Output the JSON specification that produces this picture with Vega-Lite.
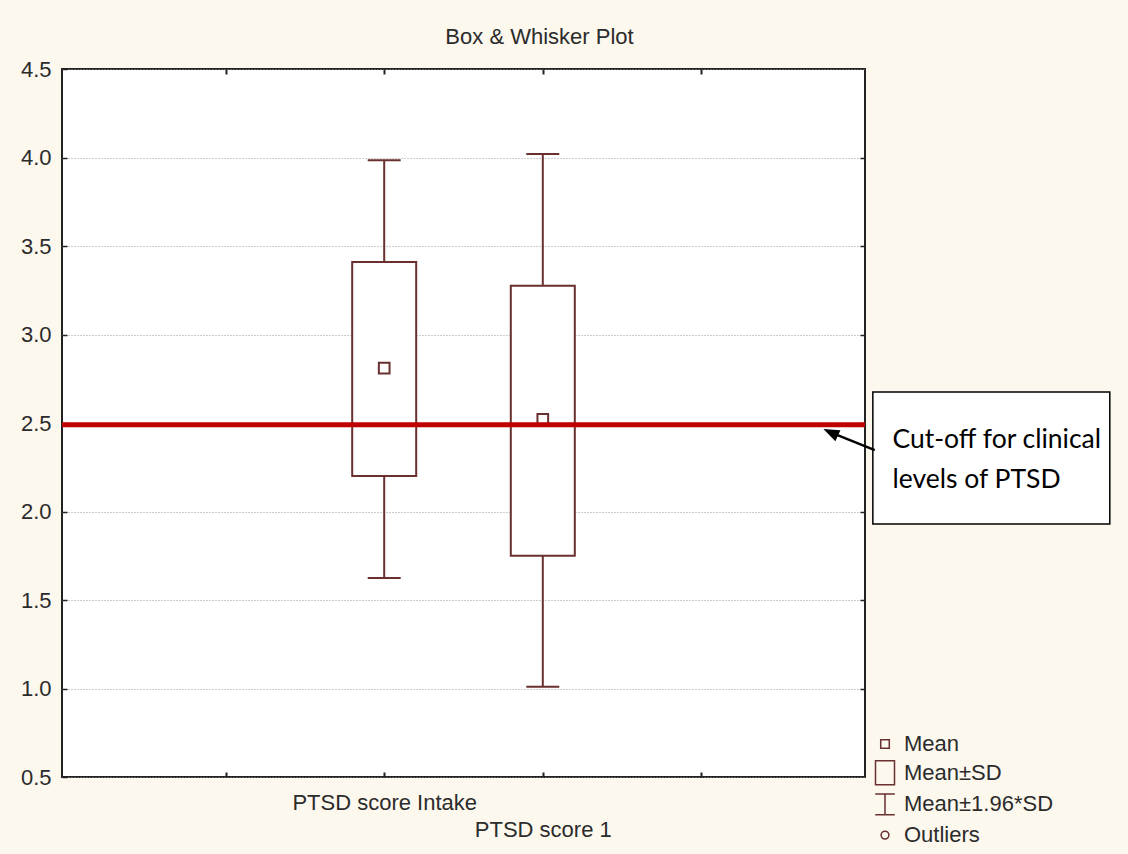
{
  "$schema": "https://vega.github.io/schema/vega-lite/v6.json",
  "width": 803,
  "height": 708,
  "autosize": {"type": "none"},
  "padding": {"left": 62, "top": 69, "right": 263, "bottom": 77},
  "background": "#fcf8ee",
  "title": {
    "text": "Box & Whisker Plot",
    "fontSize": 22,
    "fontWeight": "normal",
    "color": "#2b2b2b",
    "font": "Liberation Sans",
    "offset": 9,
    "dx": 76
  },
  "config": {
    "font": "Liberation Sans",
    "view": {"fill": "white", "stroke": "#222222", "strokeWidth": 2}
  },
  "datasets": {
    "stats": [
      {"variable": "PTSD score Intake", "pos": 2, "stat": "Mean", "mean": 2.81, "sdLo": 2.20, "sdHi": 3.41, "ciLo": 1.625, "ciHi": 3.985},
      {"variable": "PTSD score 1", "pos": 3, "stat": "Mean", "mean": 2.52, "sdLo": 1.75, "sdHi": 3.275, "ciLo": 1.01, "ciHi": 4.02}
    ],
    "cutoff": [{"score": 2.49}],
    "note": [{"x0": 5.081, "x1": 6.575, "y0": 1.929, "y1": 2.675}],
    "noteText": [
      {"line": "Cut-off for clinical", "x": 5.205, "y": 2.404},
      {"line": "levels of PTSD", "x": 5.205, "y": 2.178}
    ],
    "arrow": [{"x": 5.093, "y": 2.347, "tipX": 4.815, "tipY": 2.447}]
  },
  "resolve": {"axis": {"x": "independent", "y": "independent"}},
  "layer": [
    {
      "data": {"name": "stats"},
      "mark": {"type": "bar", "orient": "vertical", "width": 64, "fill": "white", "stroke": "#6a2f2f", "strokeWidth": 2},
      "encoding": {
        "x": {
          "field": "pos", "type": "quantitative",
          "scale": {"domain": [0, 5], "nice": false, "zero": false},
          "axis": {
            "orient": "bottom", "title": null, "values": [1, 2, 3, 4],
            "domain": false, "grid": false,
            "tickSize": -5, "tickWidth": 2, "tickColor": "#222222",
            "labelExpr": "datum.value == 2 ? 'PTSD score Intake' : datum.value == 3 ? ['', 'PTSD score 1'] : ''",
            "labelFontSize": 22, "labelColor": "#2b2b2b", "labelPadding": 20, "labelLimit": 0,
            "labelLineHeight": 27, "labelOverlap": false, "labelFlush": false, "labelBound": false
          }
        },
        "y": {
          "field": "sdLo", "type": "quantitative",
          "scale": {"domain": [0.5, 4.5], "nice": false, "zero": false},
          "axis": {
            "orient": "left", "title": null,
            "values": [0.5, 1, 1.5, 2, 2.5, 3, 3.5, 4, 4.5], "format": ".1f",
            "domain": false, "grid": true, "gridDash": [1, 2], "gridColor": "#999999", "gridWidth": 1,
            "tickSize": -5, "tickWidth": 1.5, "tickColor": "#222222",
            "labelFontSize": 22, "labelColor": "#2b2b2b", "labelPadding": 16
          }
        },
        "y2": {"field": "sdHi"}
      }
    },
    {
      "data": {"name": "stats"},
      "mark": {"type": "rule", "color": "#6a2f2f", "strokeWidth": 2},
      "encoding": {
        "x": {
          "field": "pos", "type": "quantitative",
          "axis": {
            "orient": "top", "title": null, "values": [1, 2, 3, 4],
            "domain": false, "grid": false, "labels": false,
            "tickSize": -5, "tickWidth": 2, "tickColor": "#222222"
          }
        },
        "y": {
          "field": "sdHi", "type": "quantitative",
          "axis": {
            "orient": "right", "title": null,
            "values": [1, 1.5, 2, 2.5, 3, 3.5, 4],
            "domain": false, "grid": false, "labels": false,
            "tickSize": -5, "tickWidth": 1.5, "tickColor": "#222222"
          }
        },
        "y2": {"field": "ciHi"}
      }
    },
    {
      "data": {"name": "stats"},
      "mark": {"type": "rule", "color": "#6a2f2f", "strokeWidth": 2},
      "encoding": {
        "x": {"field": "pos", "type": "quantitative", "axis": null},
        "y": {"field": "ciLo", "type": "quantitative", "axis": null},
        "y2": {"field": "sdLo"}
      }
    },
    {
      "data": {"name": "stats"},
      "mark": {"type": "tick", "orient": "horizontal", "size": 33, "thickness": 2, "color": "#6a2f2f", "opacity": 1},
      "encoding": {
        "x": {"field": "pos", "type": "quantitative", "axis": null},
        "y": {"field": "ciHi", "type": "quantitative", "axis": null}
      }
    },
    {
      "data": {"name": "stats"},
      "mark": {"type": "tick", "orient": "horizontal", "size": 33, "thickness": 2, "color": "#6a2f2f", "opacity": 1},
      "encoding": {
        "x": {"field": "pos", "type": "quantitative", "axis": null},
        "y": {"field": "ciLo", "type": "quantitative", "axis": null}
      }
    },
    {
      "data": {"name": "stats"},
      "mark": {"type": "point", "filled": false, "size": 1050, "strokeWidth": 2, "color": "#6a2f2f", "opacity": 1},
      "encoding": {
        "x": {"field": "pos", "type": "quantitative", "axis": null},
        "y": {"field": "mean", "type": "quantitative", "axis": null},
        "shape": {
          "field": "stat", "type": "nominal",
          "scale": {
            "domain": ["Mean", "Mean±SD", "Mean±1.96*SD", "Outliers"],
            "range": [
              "M-0.33,-0.33H0.33V0.33H-0.33Z",
              "M-0.73,-0.92H0.73V0.92H-0.73Z",
              "M-0.75,-0.8H0.75M0,-0.8V0.8M-0.75,0.8H0.75",
              "M0.3,0A0.3,0.3,0,1,1,-0.3,0A0.3,0.3,0,1,1,0.3,0Z"
            ]
          },
          "legend": {
            "title": null, "orient": "none", "legendX": 809, "legendY": 661,
            "symbolSize": 676, "symbolStrokeColor": "#6a2f2f", "symbolStrokeWidth": 1.5,
            "symbolFillColor": "transparent", "symbolOpacity": 1,
            "labelFontSize": 22, "labelColor": "#2b2b2b", "labelFont": "Liberation Sans",
            "labelOffset": 5, "rowPadding": 2.7, "labelLimit": 0
          }
        }
      }
    },
    {
      "data": {"name": "cutoff"},
      "mark": {"type": "rule", "color": "#c00000", "strokeWidth": 5},
      "encoding": {
        "y": {"field": "score", "type": "quantitative", "axis": null}
      }
    },
    {
      "data": {"name": "note"},
      "mark": {"type": "rect", "fill": "white", "stroke": "#000000", "strokeWidth": 1.5},
      "encoding": {
        "x": {"field": "x0", "type": "quantitative", "axis": null},
        "x2": {"field": "x1"},
        "y": {"field": "y0", "type": "quantitative", "axis": null},
        "y2": {"field": "y1"}
      }
    },
    {
      "data": {"name": "noteText"},
      "mark": {"type": "text", "font": "Lato", "fontSize": 26.5, "align": "left", "baseline": "middle", "color": "#000000"},
      "encoding": {
        "x": {"field": "x", "type": "quantitative", "axis": null},
        "y": {"field": "y", "type": "quantitative", "axis": null},
        "text": {"field": "line"}
      }
    },
    {
      "data": {"name": "arrow"},
      "mark": {"type": "rule", "color": "#000000", "strokeWidth": 2.5},
      "encoding": {
        "x": {"field": "x", "type": "quantitative", "axis": null},
        "y": {"field": "y", "type": "quantitative", "axis": null},
        "x2": {"field": "tipX"},
        "y2": {"field": "tipY"}
      }
    },
    {
      "data": {"name": "arrow"},
      "mark": {"type": "point", "shape": "M0,-1L0.75,1L-0.75,1Z", "filled": true, "size": 256, "angle": 295, "color": "#000000", "opacity": 1},
      "encoding": {
        "x": {"field": "tipX", "type": "quantitative", "axis": null},
        "y": {"field": "tipY", "type": "quantitative", "axis": null}
      }
    }
  ]
}
